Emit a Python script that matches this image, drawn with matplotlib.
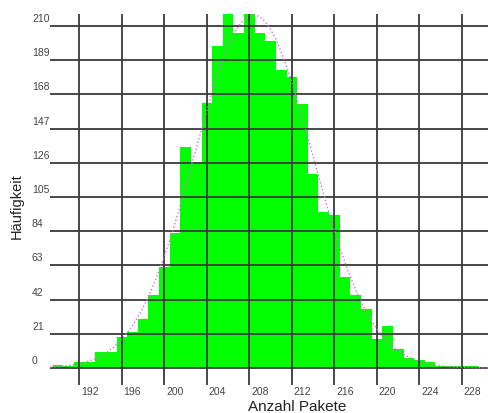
#histogram of package counts with a fitted normal curve

import numpy as np
import matplotlib.pyplot as plt
from matplotlib.transforms import blended_transform_factory

plt.rcParams['font.family'] = ['Liberation Sans', 'DejaVu Sans']

pakete = list(range(190, 230))
haeufigkeit = [2, 1, 4, 4, 10, 10, 19, 22, 30, 45,
               62, 83, 136, 126, 163, 198, 218, 206, 218, 206,
               201, 183, 179, 162, 119, 96, 94, 56, 45, 36,
               18, 26, 12, 6, 5, 4, 1, 1, 1, 1]
xticks = [192, 196, 200, 204, 208, 212, 216, 220, 224, 228]
yticks = [0, 21, 42, 63, 84, 105, 126, 147, 168, 189, 210]

x = np.array(pakete)
h = np.array(haeufigkeit)
n = h.sum()
mu = (x * h).sum() / n
sd = np.sqrt(((x - mu) ** 2 * h).sum() / n)

fig = plt.figure(figsize=(4.88, 4.14), dpi=100)
ax = fig.add_axes([50 / 488, 28 / 414, 438 / 488, 371 / 414])

ax.bar(x, h, width=1.0, color='#00ff00', edgecolor='none', zorder=1)

gc = '#3a3a3a'
for v in yticks:
    ax.axhline(v, color=gc, lw=1.3, zorder=2)
for v in xticks:
    ax.axvline(v, color=gc, lw=1.3, zorder=2)

xs = np.linspace(189.3, 230.4, 400)
ys = n / (sd * np.sqrt(2 * np.pi)) * np.exp(-0.5 * ((xs - mu) / sd) ** 2)
ax.plot(xs, ys, color='#dd66ee', lw=1.0, ls=':', zorder=3)

ax.set_xlim(189.24, 230.45)
ax.set_ylim(-10.4, 217.4)
ax.axis('off')

trans = blended_transform_factory(fig.transFigure, ax.transData)
for v in yticks:
    ax.text(32 / 488, v + 5, str(v), transform=trans, fontsize=7.5,
            color='#444444', ha='left', va='center', clip_on=False)

for v in xticks:
    ax.text(v + 0.15, -14, str(v), fontsize=7.5, color='#444444', ha='left', va='center',
            clip_on=False)

fig.text(297 / 488, 1 - 407 / 414, 'Anzahl Pakete', fontsize=11, ha='center', va='center',
         color='#222222')
fig.text(17 / 488, 1 - 206 / 414, 'Häufigkeit', fontsize=10.5, rotation=90, ha='center',
         va='center', color='#222222')

fig.savefig('out.png', dpi=100)
